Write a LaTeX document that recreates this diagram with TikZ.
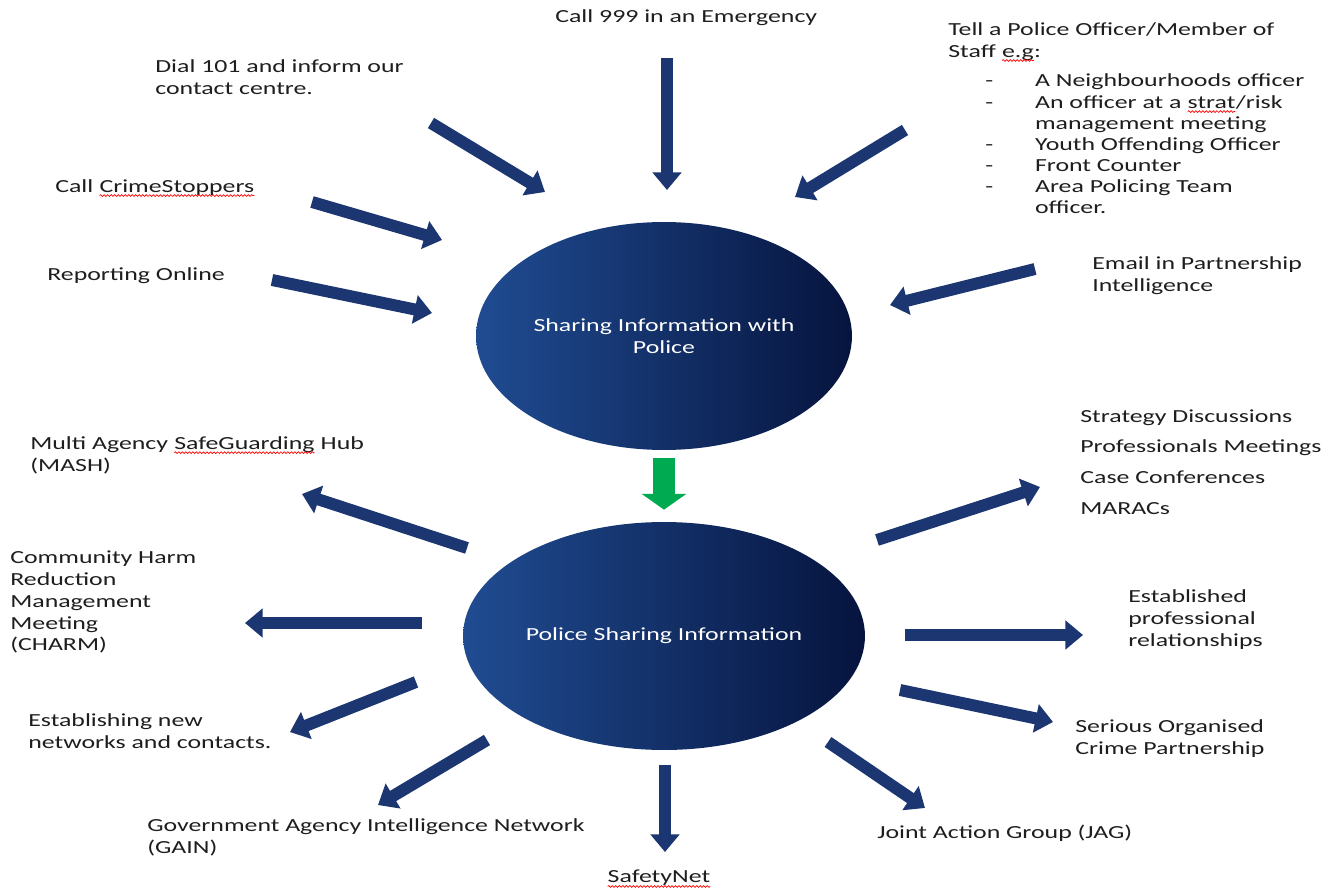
\documentclass[tikz,border=0pt]{standalone}
\usepackage{fontspec}
\setmainfont{Carlito}[FakeStretch=1.4]
\usetikzlibrary{arrows.meta,shapes.geometric,positioning,decorations.pathmorphing}

\definecolor{ellleft}{RGB}{32,76,146}
\definecolor{ellright}{RGB}{6,20,62}
\definecolor{flowblue}{RGB}{27,54,112}
\definecolor{passgreen}{RGB}{0,170,80}
\definecolor{txt}{RGB}{30,30,30}

% red wavy underline of the spell checker
\newcommand{\spellmark}[1]{\tikz[baseline=(w.base)]{\node[inner sep=0pt, outer sep=0pt, text=txt] (w) {#1};
  \draw[red, line width=0.4pt, decorate, decoration={snake, amplitude=0.5pt, segment length=2pt}]
    ([yshift=-2pt]w.base west) -- ([yshift=-2pt]w.base east);}}

\tikzset{
  lbl/.style={anchor=west, inner sep=0pt, align=left, text=txt, font=\fontsize{10.5}{12.5}\selectfont},
  hub/.style={ellipse, inner sep=0pt, minimum height=4.56cm, left color=ellleft, right color=ellright,
    text=white, align=center, font=\fontsize{10.5}{12.5}\selectfont},
  flow/.style={draw=flowblue, line width=6.8pt, -{Triangle[width=16pt,length=10pt]}},
  pass/.style={draw=passgreen, line width=12.5pt, -{Triangle[width=25pt,length=9pt]}}
}

\begin{document}
\begin{tikzpicture}[x=0.02cm,y=-0.02cm]
\useasboundingbox (0,0) rectangle (1341,888);
\fill[white] (0,0) rectangle (1341,888);

\node[hub, minimum width=7.52cm] (hubIn) at (664,336) {Sharing Information with\\Police};
\node[hub, minimum width=8.04cm] (hubOut) at (664,636) {Police Sharing Information};

\draw[pass, shorten <=0.16cm, shorten >=0.24cm] (hubIn.south) -- (hubOut.north);

% ways in
\node[lbl] (call999) at (555,18) {Call 999 in an Emergency};
\node[lbl] (dial) at (155,77) {Dial 101 and inform our\\contact centre.};
\node[lbl] (tell) at (948,42) {Tell a Police Officer/Member of\\Staff \spellmark{e.g}:};
\node[lbl, font=\fontsize{10.5}{12}\selectfont] (tellList) at (985,146) {%
  \begin{tabular}{@{}p{28.3pt}@{}l@{}}
  -&A Neighbourhoods officer\\
  -&An officer at a \spellmark{strat}/risk\\
  &management meeting\\
  -&Youth Offending Officer\\
  -&Front Counter\\
  -&Area Policing Team\\
  &officer.
  \end{tabular}};
\node[lbl] (crime) at (55,188) {Call \spellmark{CrimeStoppers}};
\node[lbl] (online) at (47,276) {Reporting Online};
\node[lbl] (email) at (1092,276) {Email in Partnership\\Intelligence};

% ways out
\node[lbl] (mash) at (30,455) {Multi Agency \spellmark{SafeGuarding} Hub\\(MASH)};
\node[lbl] (charm) at (10,602) {Community Harm\\Reduction\\Management\\Meeting\\(CHARM)};
\node[lbl] (networks) at (28,731) {Establishing new\\networks and contacts.};
\node[lbl] (gain) at (147,837) {Government Agency Intelligence Network\\(GAIN)};
\node[lbl] (safety) at (607,879) {\spellmark{SafetyNet}};
\node[lbl] (jag) at (877,833) {Joint Action Group (JAG)};
\node[lbl] (soc) at (1075,739) {Serious Organised\\Crime Partnership};
\node[lbl] (estab) at (1128,620) {Established\\professional\\relationships};
\node[lbl] (meetings) at (1080,462) {Strategy Discussions\\[5pt]Professionals Meetings\\[5pt]Case Conferences\\[5pt]MARACs};

\foreach \n/\p/\q in {dial/{431,123}/{545,192}, call/{667,58}/{667,190}, tell/{905,130}/{795,197},
  crime/{312,202}/{442,240}, online/{272,280}/{432,313}, email/{1035,269}/{890,305},
  mash/{467,548}/{302,494}, charm/{422,623}/{245,623}, networks/{416,682}/{290,732},
  gain/{487,740}/{378,805}, safety/{665,765}/{665,852}, jag/{828,742}/{925,808},
  soc/{900,690}/{1053,722}, estab/{905,635}/{1083,635}, meetings/{877,540}/{1040,487}}
{
  \coordinate (\n A) at (\p);
  \coordinate (\n B) at (\q);
  \draw[flow] (\n A) -- (\n B);
}

\end{tikzpicture}
\end{document}
